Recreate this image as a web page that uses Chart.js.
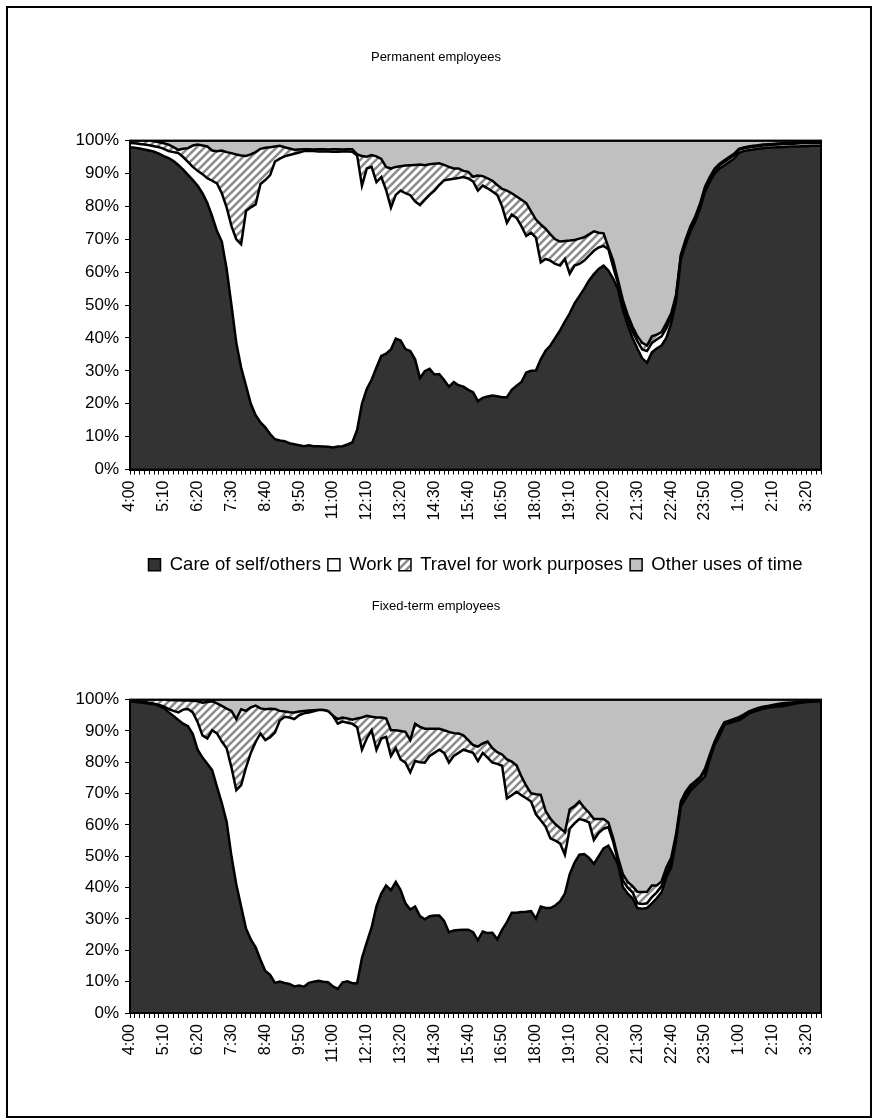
<!DOCTYPE html>
<html>
<head>
<meta charset="utf-8">
<script src="https://cdn.jsdelivr.net/npm/chart.js@4.4.1/dist/chart.umd.min.js"></script>
<style>
  body { margin: 0; background: #fff; }
  #frame { position: absolute; left: 6px; top: 6px; width: 866px; height: 1112px; border: 2px solid #000; box-sizing: border-box; }
  .box { position: absolute; left: 0; width: 872px; }
  #box1 { top: 0; height: 590px; }
  #box2 { top: 590px; height: 528px; }
</style>
</head>
<body>
<div id="frame"></div>
<div class="box" id="box1"><canvas id="chart1"></canvas></div>
<div class="box" id="box2"><canvas id="chart2"></canvas></div>
<script>
const times = [
  '4:00','4:10','4:20','4:30','4:40','4:50','5:00','5:10','5:20','5:30','5:40','5:50',
  '6:00','6:10','6:20','6:30','6:40','6:50','7:00','7:10','7:20','7:30','7:40','7:50',
  '8:00','8:10','8:20','8:30','8:40','8:50','9:00','9:10','9:20','9:30','9:40','9:50',
  '10:00','10:10','10:20','10:30','10:40','10:50','11:00','11:10','11:20','11:30','11:40','11:50',
  '12:00','12:10','12:20','12:30','12:40','12:50','13:00','13:10','13:20','13:30','13:40','13:50',
  '14:00','14:10','14:20','14:30','14:40','14:50','15:00','15:10','15:20','15:30','15:40','15:50',
  '16:00','16:10','16:20','16:30','16:40','16:50','17:00','17:10','17:20','17:30','17:40','17:50',
  '18:00','18:10','18:20','18:30','18:40','18:50','19:00','19:10','19:20','19:30','19:40','19:50',
  '20:00','20:10','20:20','20:30','20:40','20:50','21:00','21:10','21:20','21:30','21:40','21:50',
  '22:00','22:10','22:20','22:30','22:40','22:50','23:00','23:10','23:20','23:30','23:40','23:50',
  '0:00','0:10','0:20','0:30','0:40','0:50','1:00','1:10','1:20','1:30','1:40','1:50',
  '2:00','2:10','2:20','2:30','2:40','2:50','3:00','3:10','3:20','3:30','3:40','3:50'
];

const seriesNames = ['Care of self/others', 'Work', 'Travel for work purposes', 'Other uses of time'];

// Permanent employees (% of people)
const carePerm = [
  98.0, 97.8, 97.6, 97.3, 97.0, 96.6, 96.0, 95.3, 94.7, 93.8, 92.6, 91.2,
  89.6, 88.0, 86.3, 84.0, 81.0, 77.0, 72.5, 69.3, 61.0, 50.0, 38.5, 31.0,
  25.5, 20.0, 16.5, 14.3, 12.8, 10.8, 9.2, 8.8, 8.6, 8.0, 7.7, 7.4,
  7.1, 7.4, 7.1, 7.1, 7.0, 6.9, 6.7, 7.0, 7.1, 7.6, 8.2, 12.0,
  20.0, 24.5, 27.3, 31.0, 34.5, 35.2, 36.5, 39.8, 39.2, 36.6, 36.0, 33.5,
  27.8, 29.9, 30.6, 28.9, 29.0, 27.2, 25.2, 26.6, 25.6, 25.2, 24.2, 23.5,
  20.8, 21.8, 22.2, 22.5, 22.3, 22.0, 22.0, 24.2, 25.5, 26.6, 29.5, 30.0,
  30.1, 33.5, 36.1, 37.7, 40.0, 42.3, 45.0, 47.5, 50.5, 52.7, 55.0, 57.5,
  59.4, 61.0, 62.0, 60.5, 58.0, 54.8, 48.5, 44.0, 40.0, 36.8, 33.8, 32.5,
  35.6, 36.8, 37.7, 40.0, 44.5, 51.0, 64.0, 68.5, 72.5, 75.5, 79.5, 84.5,
  87.5, 90.0, 91.5, 92.5, 93.5, 94.5, 96.3, 96.8, 97.1, 97.3, 97.5, 97.7,
  97.8, 97.9, 98.0, 98.0, 98.1, 98.2, 98.2, 98.3, 98.3, 98.4, 98.4, 98.4
];
const workPerm = [
  1.3, 1.4, 1.4, 1.5, 1.6, 1.7, 2.0, 2.2, 2.1, 2.7, 3.6, 3.8,
  3.9, 4.0, 4.5, 5.8, 7.6, 10.8, 14.5, 14.7, 18.7, 24.0, 31.5, 37.5,
  53.1, 59.7, 64.1, 72.5, 75.2, 78.7, 84.4, 85.7, 86.6, 87.6, 88.3, 89.0,
  89.7, 89.5, 89.7, 89.6, 89.7, 89.8, 89.9, 89.6, 89.6, 89.1, 88.4, 83.5,
  66.3, 67.0, 64.7, 56.4, 54.4, 49.8, 43.1, 43.7, 45.6, 47.4, 47.4, 48.0,
  52.6, 52.1, 52.9, 55.9, 57.5, 60.7, 63.0, 61.8, 63.0, 63.7, 64.3, 64.1,
  64.0, 64.5, 63.3, 62.0, 61.2, 58.0, 53.0, 53.3, 51.0, 47.4, 41.5, 42.0,
  40.4, 29.5, 27.9, 25.8, 22.5, 19.7, 19.0, 12.0, 11.5, 9.8, 8.5, 7.5,
  7.1, 6.5, 6.0, 6.5, 3.5, 1.7, 2.0, 2.0, 2.0, 2.2, 2.7, 3.5,
  2.9, 2.7, 2.8, 3.0, 2.0, 1.5, 1.0, 1.0, 1.0, 1.0, 1.0, 1.0,
  1.0, 1.0, 1.0, 1.0, 1.0, 1.0, 0.9, 0.8, 0.8, 0.8, 0.8, 0.8,
  0.8, 0.8, 0.8, 0.9, 0.9, 0.8, 0.9, 0.9, 0.9, 0.9, 0.9, 0.9
];
const travelPerm = [
  0.7, 0.8, 1.0, 1.2, 1.4, 1.5, 1.5, 1.7, 2.0, 1.5, 1.0, 2.5,
  4.2, 6.5, 8.0, 8.7, 9.6, 9.2, 9.8, 13.0, 16.8, 22.2, 25.8, 27.0,
  16.7, 16.1, 15.9, 10.7, 9.8, 8.5, 4.6, 3.9, 2.8, 2.0, 1.2, 0.9,
  0.6, 0.5, 0.5, 0.7, 0.7, 0.6, 0.8, 0.8, 0.6, 0.7, 0.8, 0.3,
  9.0, 3.6, 3.6, 7.8, 5.5, 7.0, 11.9, 8.5, 7.4, 8.4, 9.1, 11.1,
  12.3, 10.5, 9.3, 8.2, 6.6, 4.7, 3.8, 3.1, 2.9, 1.9, 2.0, 1.4,
  4.6, 2.9, 3.0, 3.3, 3.0, 5.3, 9.8, 6.5, 6.5, 8.0, 10.0, 6.5,
  5.5, 11.5, 9.2, 8.0, 7.5, 7.3, 5.5, 10.1, 7.8, 7.7, 7.1, 6.5,
  5.9, 4.5, 3.8, 0.5, 2.0, 1.0, 1.0, 1.0, 1.4, 1.5, 2.0, 1.7,
  2.0, 1.5, 1.3, 1.5, 1.0, 0.5, 0.3, 0.5, 0.5, 0.5, 0.5, 0.5,
  0.5, 0.5, 0.5, 0.5, 0.5, 0.5, 0.3, 0.3, 0.3, 0.3, 0.3, 0.3,
  0.3, 0.3, 0.3, 0.3, 0.3, 0.3, 0.3, 0.3, 0.3, 0.3, 0.3, 0.3
];
const otherPerm = [
  0.0, 0.0, 0.0, 0.0, 0.0, 0.2, 0.5, 0.8, 1.2, 2.0, 2.8, 2.5,
  2.3, 1.5, 1.2, 1.5, 1.8, 3.0, 3.2, 3.0, 3.5, 3.8, 4.2, 4.5,
  4.7, 4.2, 3.5, 2.5, 2.2, 2.0, 1.8, 1.6, 2.0, 2.4, 2.8, 2.7,
  2.6, 2.6, 2.7, 2.6, 2.6, 2.7, 2.6, 2.6, 2.7, 2.6, 2.6, 4.2,
  4.7, 4.9, 4.4, 4.8, 5.6, 8.0, 8.5, 8.0, 7.8, 7.6, 7.5, 7.4,
  7.3, 7.5, 7.2, 7.0, 6.9, 7.4, 8.0, 8.5, 8.5, 9.2, 9.5, 11.0,
  10.6, 10.8, 11.5, 12.2, 13.5, 14.7, 15.2, 16.0, 17.0, 18.0, 19.0, 21.5,
  24.0, 25.5, 26.8, 28.5, 30.0, 30.7, 30.5, 30.4, 30.2, 29.8, 29.4, 28.5,
  27.6, 28.0, 28.2, 32.5, 36.5, 42.5, 48.5, 53.0, 56.6, 59.5, 61.5, 62.3,
  59.5, 59.0, 58.2, 55.5, 52.5, 47.0, 34.7, 30.0, 26.0, 23.0, 19.0, 14.0,
  11.0, 8.5, 7.0, 6.0, 5.0, 4.0, 2.5, 2.1, 1.8, 1.6, 1.4, 1.2,
  1.1, 1.0, 0.9, 0.8, 0.7, 0.7, 0.6, 0.5, 0.5, 0.4, 0.4, 0.4
];

// Fixed-term employees (% of people)
const careFixed = [
  99.5, 99.3, 99.1, 98.9, 98.7, 98.5, 98.0, 97.3, 96.0, 94.8, 93.5, 92.3,
  91.5, 89.0, 84.0, 81.5, 79.5, 77.5, 72.2, 67.0, 61.0, 50.0, 41.0, 34.0,
  27.0, 23.5, 21.0, 17.0, 13.4, 12.2, 9.6, 10.0, 9.6, 9.3, 8.5, 8.8,
  8.4, 9.6, 10.0, 10.3, 10.0, 9.8, 8.5, 7.7, 9.8, 10.1, 9.5, 9.5,
  17.5, 22.5, 27.3, 34.0, 38.1, 40.7, 39.2, 41.8, 39.2, 35.0, 33.0, 34.0,
  30.9, 29.9, 30.9, 31.1, 31.1, 29.4, 25.8, 26.3, 26.5, 26.6, 26.6, 25.8,
  23.2, 26.0, 25.5, 25.6, 23.5, 26.5, 29.0, 32.0, 32.0, 32.2, 32.3, 32.5,
  30.1, 34.0, 33.5, 33.5, 34.3, 35.6, 38.1, 44.3, 48.0, 50.5, 50.7, 49.5,
  47.6, 50.0, 52.5, 53.4, 50.5, 47.4, 40.2, 38.1, 36.6, 33.5, 33.3, 33.5,
  35.0, 36.6, 38.5, 43.3, 46.5, 55.0, 66.0, 68.5, 71.0, 72.5, 74.0, 75.5,
  80.9, 85.6, 88.5, 92.0, 92.5, 93.0, 93.4, 94.3, 95.5, 96.1, 96.6, 97.1,
  97.4, 97.6, 97.8, 97.9, 98.2, 98.5, 98.8, 99.0, 99.2, 99.3, 99.4, 99.5
];
const workFixed = [
  0.5, 0.4, 0.3, 0.3, 0.3, 0.2, 0.3, 0.5, 1.0, 1.6, 2.4, 4.5,
  5.5, 6.9, 8.8, 7.1, 8.1, 12.7, 17.0, 19.6, 23.5, 28.3, 30.1, 38.7,
  51.3, 59.5, 65.5, 72.2, 73.7, 75.8, 79.9, 83.3, 84.9, 85.0, 85.3, 86.2,
  87.2, 86.3, 86.3, 86.4, 86.7, 86.5, 86.3, 84.6, 83.2, 82.5, 82.8, 81.7,
  66.5, 65.1, 62.9, 50.0, 49.5, 47.4, 42.8, 42.7, 41.7, 44.9, 43.8, 46.4,
  49.1, 50.0, 51.1, 51.9, 52.9, 53.6, 54.1, 55.7, 56.5, 57.4, 56.9, 57.2,
  57.2, 57.0, 56.0, 54.3, 56.0, 52.4, 39.5, 37.5, 38.6, 37.3, 36.2, 35.0,
  33.3, 27.5, 26.0, 22.2, 20.7, 18.5, 12.4, 14.5, 12.5, 11.4, 10.8, 11.3,
  7.6, 7.5, 6.3, 5.9, 4.1, 1.0, 2.1, 1.9, 1.9, 1.5, 1.5, 1.5,
  2.0, 1.9, 2.0, 1.2, 1.5, 1.0, 0.6, 0.8, 1.0, 1.0, 1.0, 1.5,
  0.7, 0.7, 0.8, 0.5, 0.5, 0.5, 0.5, 0.5, 0.4, 0.4, 0.4, 0.4,
  0.4, 0.4, 0.4, 0.4, 0.3, 0.3, 0.2, 0.2, 0.2, 0.2, 0.2, 0.2
];
const travelFixed = [
  0.0, 0.3, 0.6, 0.8, 1.0, 1.3, 1.7, 2.2, 2.9, 3.4, 3.9, 2.9,
  2.7, 3.7, 6.7, 10.4, 11.6, 9.3, 9.6, 11.4, 12.6, 18.1, 22.7, 24.2,
  18.1, 14.5, 11.6, 8.0, 9.8, 9.1, 7.5, 3.1, 1.7, 1.7, 2.1, 1.2,
  0.8, 0.6, 0.3, 0.0, 0.0, 0.0, 0.0, 1.5, 1.3, 1.4, 1.3, 2.8,
  10.3, 7.2, 4.3, 10.3, 6.7, 5.9, 8.2, 5.7, 9.1, 9.8, 10.3, 11.9,
  11.3, 10.8, 8.7, 7.7, 6.7, 7.2, 9.8, 7.3, 6.2, 4.6, 3.6, 2.5,
  4.6, 3.0, 5.1, 4.6, 3.7, 3.6, 12.4, 10.7, 8.4, 6.0, 4.0, 2.6,
  6.4, 8.1, 5.0, 6.3, 5.3, 4.9, 7.2, 6.2, 5.5, 5.6, 4.0, 3.1,
  6.7, 4.4, 3.1, 1.5, 1.1, 1.1, 2.0, 1.8, 2.0, 3.7, 3.8, 3.7,
  3.7, 2.2, 1.5, 1.9, 1.5, 1.0, 0.9, 1.3, 0.7, 0.5, 0.3, 1.0,
  0.9, 0.3, 0.7, 0.3, 0.3, 0.3, 0.5, 0.4, 0.3, 0.3, 0.3, 0.2,
  0.2, 0.3, 0.4, 0.5, 0.5, 0.3, 0.2, 0.2, 0.1, 0.1, 0.1, 0.1
];
const otherFixed = [
  0.0, 0.0, 0.0, 0.0, 0.0, 0.0, 0.0, 0.0, 0.1, 0.2, 0.2, 0.3,
  0.3, 0.4, 0.5, 1.0, 0.8, 0.5, 1.2, 2.0, 2.9, 3.6, 6.2, 3.1,
  3.6, 2.5, 1.9, 2.8, 3.1, 2.9, 3.0, 3.6, 3.8, 4.0, 4.1, 3.8,
  3.6, 3.5, 3.4, 3.3, 3.3, 3.7, 5.2, 6.2, 5.7, 6.0, 6.4, 6.0,
  5.7, 5.2, 5.5, 5.7, 5.7, 6.0, 9.8, 9.8, 10.0, 10.3, 12.9, 7.7,
  8.7, 9.3, 9.3, 9.3, 9.3, 9.8, 10.3, 10.7, 10.8, 11.4, 12.9, 14.5,
  15.0, 14.0, 13.4, 15.5, 16.8, 17.5, 19.1, 19.8, 21.0, 24.5, 27.5, 29.9,
  30.2, 30.4, 35.5, 38.0, 39.7, 41.0, 42.3, 35.0, 34.0, 32.5, 34.5, 36.1,
  38.1, 38.1, 38.1, 39.2, 44.3, 50.5, 55.7, 58.2, 59.5, 61.3, 61.4, 61.3,
  59.3, 59.3, 58.0, 53.6, 50.5, 43.0, 32.5, 29.4, 27.3, 26.0, 24.7, 22.0,
  17.5, 13.4, 10.0, 7.2, 6.7, 6.2, 5.6, 4.8, 3.8, 3.2, 2.7, 2.3,
  2.0, 1.7, 1.4, 1.2, 1.0, 0.9, 0.8, 0.6, 0.5, 0.4, 0.3, 0.2
];

const FONT = "'Liberation Sans', Arial, sans-serif";
Chart.defaults.font.family = FONT;
Chart.defaults.color = '#000';

// grey/white diagonal hatch for the travel series
function hatchPattern() {
    const c = document.createElement('canvas');
    c.width = 8;
    c.height = 8;
    const g = c.getContext('2d');
    g.fillStyle = '#fff';
    g.fillRect(0, 0, 8, 8);
    g.strokeStyle = '#8c8c8c';
    g.lineWidth = 2.6;
    g.beginPath();
    g.moveTo(-1, 9); g.lineTo(9, -1);
    g.moveTo(-5, 5); g.lineTo(5, -5);
    g.moveTo(3, 13); g.lineTo(13, 3);
    g.stroke();
    return g.createPattern(c, 'repeat');
}

// black rectangle round the plot area (the Excel series outline)
const plotFrame = {
    id: 'plotFrame',
    afterDatasetsDraw(chart) {
        const { ctx, chartArea: a } = chart;
        ctx.save();
        ctx.strokeStyle = '#000';
        ctx.lineWidth = 2;
        ctx.strokeRect(a.left, a.top, a.right - a.left, a.bottom - a.top);
        ctx.restore();
    }
};

function makeChart(id, title, series, cfg) {
    const fills = ['#333333', '#ffffff', hatchPattern(), '#c0c0c0'];
    return new Chart(document.getElementById(id), {
        type: 'line',
        data: {
            labels: times,
            datasets: series.map((d, i) => ({
                label: seriesNames[i],
                data: d,
                backgroundColor: fills[i],
                borderColor: '#000',
                borderWidth: 2.5,
                pointRadius: 0,
                tension: 0,
                fill: i === 0 ? 'origin' : '-1'
            }))
        },
        options: {
            responsive: true,
            maintainAspectRatio: false,
            animation: false,
            layout: { padding: { left: 0, right: 0, top: 0, bottom: cfg.padBottom } },
            plugins: {
                title: {
                    display: true,
                    text: title,
                    font: { size: 13, weight: 'normal' },
                    padding: cfg.titlePad
                },
                legend: {
                    display: cfg.legend,
                    position: 'bottom',
                    fullSize: false,
                    labels: {
                        boxWidth: 12,
                        boxHeight: 12,
                        padding: 7,
                        font: { size: 18.5 },
                        generateLabels: chart => chart.data.datasets.map((ds, i) => ({
                            text: ds.label,
                            fillStyle: ds.backgroundColor,
                            strokeStyle: '#000',
                            lineWidth: 1.5,
                            datasetIndex: i
                        }))
                    }
                },
                tooltip: { enabled: false }
            },
            scales: {
                x: {
                    grid: { drawOnChartArea: false, color: '#000', tickLength: 5 },
                    border: { color: '#000', width: 2 },
                    ticks: {
                        autoSkip: false,
                        maxRotation: 90,
                        minRotation: 90,
                        padding: 6,
                        font: { size: 16 },
                        callback: (v, i) => (i % 7 === 0 ? times[i] : '')
                    },
                    afterFit: axis => { axis.height = cfg.xHeight; }
                },
                y: {
                    stacked: true,
                    min: 0,
                    max: 100,
                    ticks: { stepSize: 10, padding: 6, font: { size: 17 }, callback: v => v + '%' },
                    grid: { drawOnChartArea: false, color: '#000', tickLength: 5 },
                    border: { color: '#000', width: 2 },
                    afterFit: axis => { axis.width = 130; }
                },
                pad: {
                    position: 'right',
                    grid: { display: false },
                    border: { display: false },
                    ticks: { display: false },
                    afterFit: axis => { axis.width = 51; }
                }
            }
        },
        plugins: [plotFrame]
    });
}

makeChart('chart1', 'Permanent employees',
    [carePerm, workPerm, travelPerm, otherPerm],
    { legend: true, titlePad: { top: 50, bottom: 75 }, xHeight: 79, padBottom: 6 });

makeChart('chart2', 'Fixed-term employees',
    [careFixed, workFixed, travelFixed, otherFixed],
    { legend: false, titlePad: { top: 9, bottom: 85 }, xHeight: 58, padBottom: 47 });
</script>
</body>
</html>
